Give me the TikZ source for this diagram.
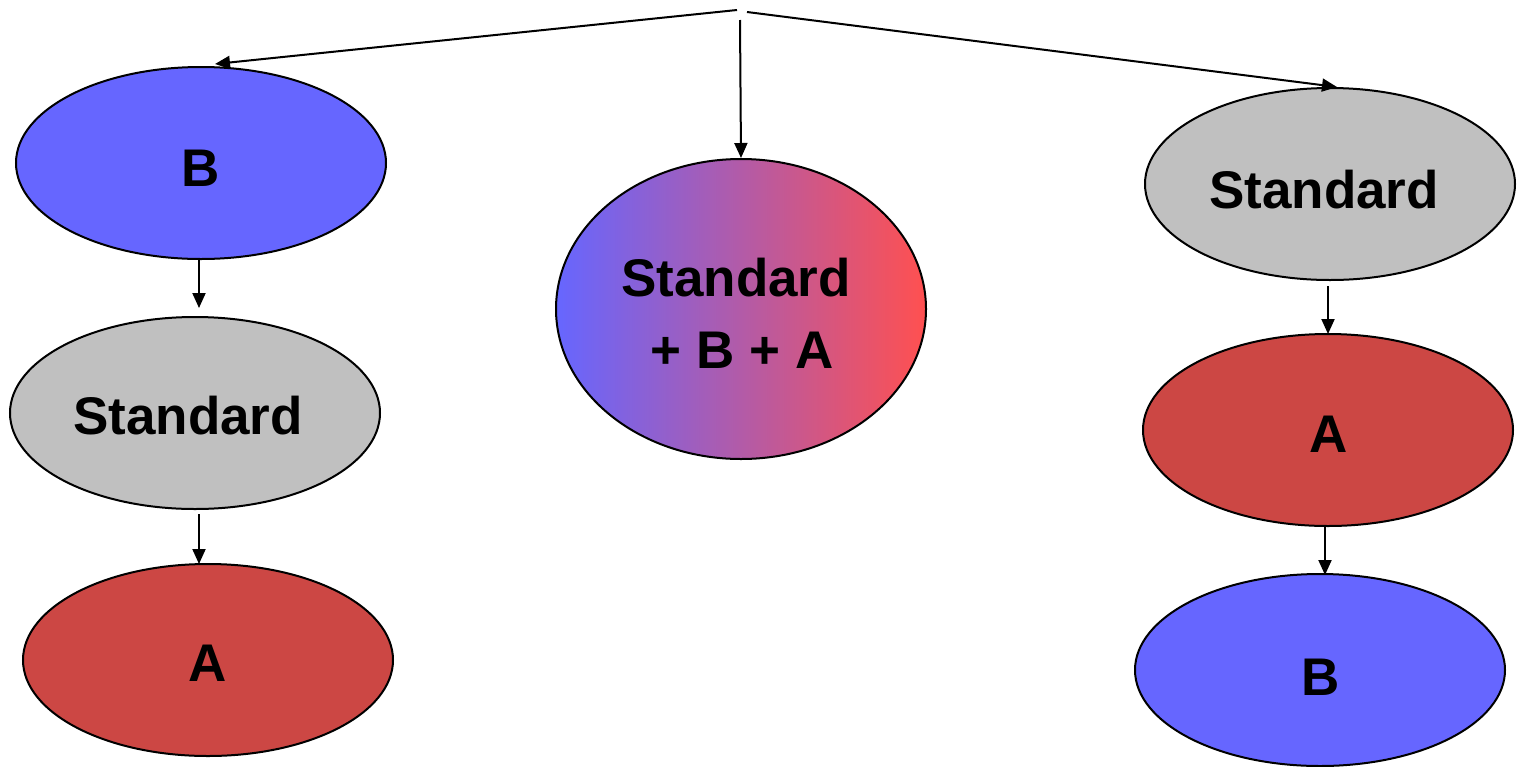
\documentclass[tikz,border=0pt]{standalone}
\usepackage{fontspec}
\setmainfont{Liberation Sans}
\usetikzlibrary{shapes.geometric,arrows.meta}
\definecolor{bblue}{HTML}{6666FF}
\definecolor{sgray}{HTML}{C0C0C0}
\definecolor{ared}{HTML}{CC4744}
\definecolor{mixmid}{HTML}{C45AC8}
\definecolor{mixred}{HTML}{FF5050}
\tikzset{
  oval/.style={ellipse, draw=black, line width=2pt, inner sep=0pt,
    minimum width=370pt, minimum height=192pt},
  lbl/.style={font=\fontsize{53}{72}\selectfont\bfseries, inner sep=0pt, align=center},
  link/.style={line width=2pt, -{Triangle[length=15pt,width=13pt]}},
}
\begin{document}
\begin{tikzpicture}[x=1pt,y=-1pt]
  \useasboundingbox (0,0) rectangle (1517,766);
  % left chain
  \node[oval, fill=bblue, label={[lbl,yshift=-5pt]center:B}] (bl) at (201,163) {};
  \node[oval, fill=sgray, label={[lbl,xshift=-7pt,yshift=-3pt]center:Standard}] (sl) at (195,413) {};
  \node[oval, fill=ared, label={[lbl,yshift=-3pt]center:A}] (al) at (208,660) {};
  % combined variant
  \node[oval, minimum height=300pt, left color=bblue, middle color=mixmid, right color=mixred,
        label={[lbl,xshift=-5pt,yshift=-4pt]center:Standard\\\hspace*{12pt}+ B + A}] (mix) at (741,309) {};
  % right chain
  \node[oval, fill=sgray, label={[lbl,xshift=-6pt,yshift=-6pt]center:Standard}] (sr) at (1330,184) {};
  \node[oval, fill=ared, label={[lbl,xshift=1pt,yshift=-4pt]center:A}] (ar) at (1328,430) {};
  \node[oval, fill=bblue, label={[lbl,xshift=1pt,yshift=-7pt]center:B}] (br) at (1320,670) {};
  % source points at the top
  \coordinate (tl) at (737,10);
  \coordinate (tc) at (740,20);
  \coordinate (tr) at (747,12);
  \draw[link] (tl) -- (215,64);
  \draw[link] (tc) -- (mix.north);
  \draw[link] (tr) -- (1337,87);
  % chain connectors
  \draw[link] (199,260) -- (199,308);
  \draw[link] (199,514) -- (199,564);
  \draw[link] (1328,286) -- (1328,334);
  \draw[link] (1325,527) -- (1325,575);
\end{tikzpicture}
\end{document}
